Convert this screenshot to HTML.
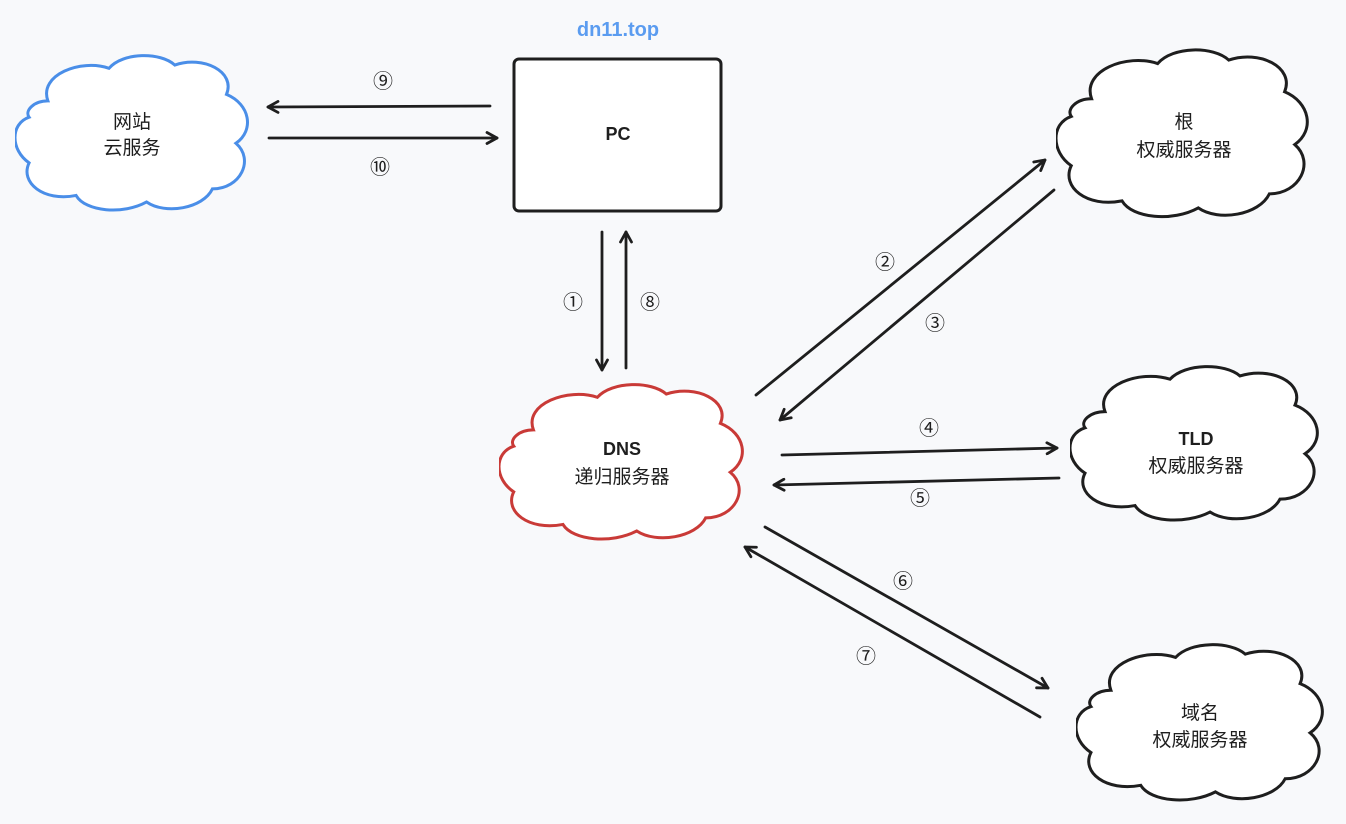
<!DOCTYPE html>
<html><head><meta charset="utf-8"><style>
html,body{margin:0;padding:0;background:#f8f9fb;}
svg{display:block;}
text{font-family:"Liberation Sans","Noto Sans CJK SC",sans-serif;fill:#1e1e1e;}
.n{font-size:20px;}
.l{font-size:19px;}
.b{font-weight:bold;font-size:18px;}
</style></head><body>
<svg width="1346" height="824" viewBox="0 0 1346 824" xmlns="http://www.w3.org/2000/svg">
<defs>
<symbol id="cloud" viewBox="0 0 100 100" preserveAspectRatio="none">
<path vector-effect="non-scaling-stroke" d="M14 30 C10 14 28 4 40 10 C46 0 62 0 68 8 C80 2 94 12 90 26 C100 32 102 48 94 56 C102 66 96 84 84 84 C80 96 64 100 56 92 C46 100 30 98 26 88 C12 92 2 80 6 68 C-2 60 -2 44 6 40 C4 36 8 30 14 30 Z"/>
</symbol>
<marker id="ah" viewBox="0 0 14 14" refX="12" refY="7" markerWidth="14" markerHeight="14" markerUnits="userSpaceOnUse" orient="auto">
<path d="M2 1.5 L12 7 L2 12.5" fill="none" stroke="#1e1e1e" stroke-width="2.8" stroke-linecap="round" stroke-linejoin="round"/>
</marker>
</defs>

<use href="#cloud" x="15" y="52" width="235" height="163" fill="#fff" stroke="#4a8ee8" stroke-width="3"/>
<use href="#cloud" x="499" y="381" width="246" height="163" fill="#fff" stroke="#c93a37" stroke-width="3"/>
<use href="#cloud" x="1056" y="46" width="254" height="176" fill="#fff" stroke="#1e1e1e" stroke-width="3"/>
<use href="#cloud" x="1070" y="363" width="250" height="162" fill="#fff" stroke="#1e1e1e" stroke-width="3"/>
<use href="#cloud" x="1076" y="641" width="249" height="164" fill="#fff" stroke="#1e1e1e" stroke-width="3"/>

<rect x="514" y="59" width="207" height="152" rx="5" fill="#fff" stroke="#1e1e1e" stroke-width="3"/>

<text x="618" y="36" text-anchor="middle" style="font-size:20px;font-weight:bold;fill:#5b9cf0">dn11.top</text>
<text x="618" y="140" text-anchor="middle" class="b">PC</text>

<text x="132" y="128" text-anchor="middle" class="l">网站</text>
<text x="132" y="154" text-anchor="middle" class="l">云服务</text>
<text x="622" y="455" text-anchor="middle" class="b">DNS</text>
<text x="622" y="483" text-anchor="middle" class="l">递归服务器</text>
<text x="1184" y="128" text-anchor="middle" class="l">根</text>
<text x="1184" y="156" text-anchor="middle" class="l">权威服务器</text>
<text x="1196" y="445" text-anchor="middle" class="b">TLD</text>
<text x="1196" y="472" text-anchor="middle" class="l">权威服务器</text>
<text x="1200" y="719" text-anchor="middle" class="l">域名</text>
<text x="1200" y="746" text-anchor="middle" class="l">权威服务器</text>

<g stroke="#1e1e1e" stroke-width="2.8" fill="none" stroke-linecap="round" marker-end="url(#ah)">
<line x1="490" y1="106" x2="268" y2="107"/>
<line x1="269" y1="138" x2="497" y2="138"/>
<line x1="602" y1="232" x2="602" y2="370"/>
<line x1="626" y1="368" x2="626" y2="232"/>
<line x1="756" y1="395" x2="1045" y2="160"/>
<line x1="1054" y1="190" x2="780" y2="420"/>
<line x1="782" y1="455" x2="1057" y2="448"/>
<line x1="1059" y1="478" x2="774" y2="485"/>
<line x1="765" y1="527" x2="1048" y2="688"/>
<line x1="1040" y1="717" x2="745" y2="547"/>
</g>

<g text-anchor="middle">
<text x="383" y="88" class="n">⑨</text>
<text x="380" y="174" class="n">⑩</text>
<text x="573" y="309" class="n">①</text>
<text x="650" y="309" class="n">⑧</text>
<text x="885" y="269" class="n">②</text>
<text x="935" y="330" class="n">③</text>
<text x="929" y="435" class="n">④</text>
<text x="920" y="505" class="n">⑤</text>
<text x="903" y="588" class="n">⑥</text>
<text x="866" y="663" class="n">⑦</text>
</g>
</svg>
</body></html>
